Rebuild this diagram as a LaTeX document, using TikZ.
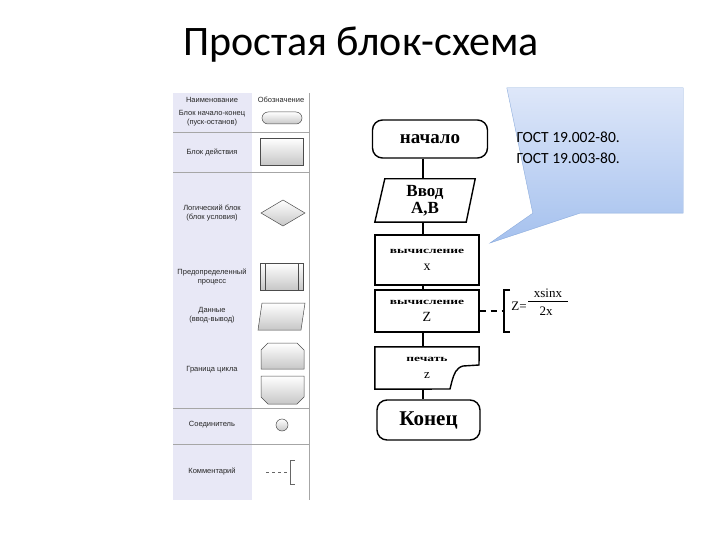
\documentclass[tikz,border=0pt]{standalone}
\usepackage{graphicx}
\usepackage{fontspec}
\setmainfont{Carlito}
\newfontfamily\fserif{Liberation Serif}
\newfontfamily\fsans{Liberation Sans}
\usetikzlibrary{positioning}
\definecolor{lav}{RGB}{232,232,246}
\definecolor{calltop}{RGB}{222,231,249}
\definecolor{callbot}{RGB}{165,193,238}
\definecolor{calledge}{RGB}{140,172,220}

\begin{document}
\begin{tikzpicture}[x=1pt,y=-1pt,
        outline/.style={line width=1.4pt},
        block/.style={draw, outline, minimum width=104pt, inner sep=0pt, align=center,
            font=\fontsize{14}{17}\selectfont\fserif},
        term/.style={block, rounded corners=10pt, font=\fontsize{19}{20}\selectfont\fserif\bfseries},
        ghost/.style={inner sep=0pt, align=center},
        link/.style={line width=1.4pt},
        sym/.style={draw=black!70, line width=0.5pt, top color=white, bottom color=black!22},
        row/.style={font=\fontsize{7.5}{8.5}\selectfont\fsans, align=center, text=black!85},
        math/.style={font=\fontsize{13}{14}\selectfont\fserif, inner sep=0pt}]
    \useasboundingbox (0,0) rectangle (720,540);
    \node[font=\fontsize{42}{48}\selectfont] (title) at (361,45) {Простая блок-схема};

    \fill[lav] (173,93) rectangle (252,500);
    \draw[black!35] (309,93) -- (309,500);
    \foreach \y in {132, 172, 408, 444} %
        \draw[black!35] (173,\y) -- (309,\y);
    \node[row] (hname) at (212,100) {Наименование};
    \node[row] (hsign) at (281,100) {Обозначение};
    \node[row] (rterm) at (212,118) {Блок начало-конец\\(пуск-останов)};
    \node[row] (ract) at (212,152) {Блок действия};
    \node[row] (rcond) at (212,213) {Логический блок\\(блок условия)};
    \node[row] (rproc) at (212,277) {Предопределенный\\процесс};
    \node[row] (rdata) at (212,315) {Данные\\(ввод-вывод)};
    \node[row] (rloop) at (212,370) {Граница цикла};
    \node[row] (rjoin) at (212,425) {Соединитель};
    \node[row] (rnote) at (212,471) {Комментарий};
    \draw[sym, rounded corners=6pt] (262,112) rectangle (302,124);
    \draw[sym] (260,138) rectangle (303,165);
    \draw[sym] (261,213) -- (283,200) -- (305,213) -- (283,226) -- cycle;
    \draw[sym] (260,263) rectangle (303,290);
    \draw[black!70] (265,263) -- (265,290) (298,263) -- (298,290);
    \draw[sym] (262,303) -- (305,303) -- (301,330) -- (258,330) -- cycle;
    \draw[sym] (261,369) -- (261,350) -- (268,343) -- (297,343) -- (304,350) -- (304,369) -- cycle;
    \draw[sym] (261,376) -- (304,376) -- (304,397) -- (297,404) -- (268,404) -- (261,397) -- cycle;
    \draw[sym] (282,425) circle (6pt);
    \draw[black!60, dashed] (266,472) -- (289,472);
    \draw[black!60] (295,460) -- (290,460) -- (290,484) -- (295,484);

    \coordinate (spine) at (423,0);
    \node[term, minimum width=115pt, minimum height=38pt] (start) at (430,139) {начало};
    \node[ghost, minimum width=90pt, minimum height=43pt,
        font=\fontsize{17}{17}\selectfont\fserif\bfseries] (input) at (425,200.5) {Ввод\\А,В};
    \draw[outline] ([xshift=5pt]input.north west) -- ([xshift=5pt]input.north east)
        -- ([xshift=-4pt]input.south east) -- ([xshift=-5pt]input.south west) -- cycle;
    \node[block, minimum height=50pt] (calcx) at (427,260)
        {\scalebox{1.5}[1]{\fontsize{9}{10}\selectfont\bfseries вычисление}\\x};
    \node[block, minimum height=42pt] (calcz) at (427,311)
        {\scalebox{1.5}[1]{\fontsize{9}{10}\selectfont\bfseries вычисление}\\Z};
    \node[ghost, minimum width=104pt, minimum height=42pt,
        font=\fontsize{13}{17}\selectfont\fserif] (print) at (427,368)
        {\scalebox{1.5}[1]{\fontsize{9}{10}\selectfont\bfseries печать}\\z};
    \draw[outline] (print.north west) -- (print.north east) -- (479,365) -- (463,366)
        .. controls (456,368) and (454,374) .. (452,381) -- (450,389)
        -- (print.south west) -- cycle;
    \node[term, minimum width=103pt, minimum height=40pt,
        font=\fontsize{21}{23}\selectfont\fserif\bfseries] (stop) at (428.5,420) {Конец};
    \foreach \a/\b in {start/input, input/calcx, calcx/calcz, calcz/print, print/stop} %
        \draw[link] (\a.south -| spine) -- (\b.north -| spine);

    \coordinate (brk) at (504,311);
    \draw[line width=1.2pt, dash pattern=on 6pt off 5pt] (calcz.east) -- (brk);
    \draw[outline] (510,290) -- (504,290) -- (504,332) -- (510,332);
    \node[math] (zeq) at (519,306) {Z=};
    \node[math] (num) at (548,293) {xsinx};
    \node[math] (den) at (546,311) {2x};
    \draw[line width=0.8pt] (528,301) -- (568,301);

    \node[minimum width=176pt, minimum height=125pt, inner sep=0pt] (note) at (595,150.5) {};
    \coordinate (tip) at (490,243);
    \draw[draw=calledge, top color=calltop, bottom color=callbot]
        (note.north west) -- (note.north east) -- (note.south east)
        -- ([xshift=73pt]note.south west) -- (tip) -- ([xshift=26pt]note.south west) -- cycle;
    \node[anchor=west, align=left, font=\fontsize{15.5}{21}\selectfont] (gost) at (513,148)
        {ГОСТ 19.002-80.\\ГОСТ 19.003-80.};
\end{tikzpicture}
\end{document}
